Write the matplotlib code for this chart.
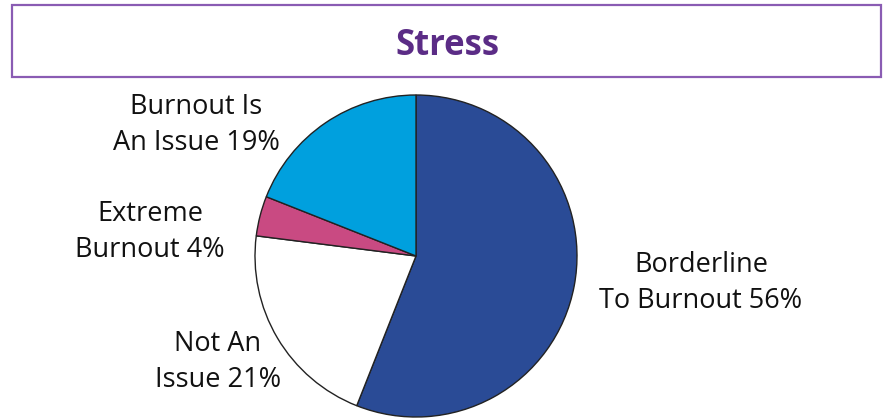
import matplotlib.pyplot as plt
from matplotlib.patches import Rectangle

# data
labels = ['Borderline\nTo Burnout 56%', 'Not An\nIssue 21%', 'Extreme\nBurnout 4%', 'Burnout Is\nAn Issue 19%']
values = [56, 21, 4, 19]
colors = ['#2A4B96', '#FFFFFF', '#C94A82', '#00A0DE']

W, H = 883, 418
fig = plt.figure(figsize=(W / 100, H / 100), dpi=100)

# title box
fig.patches.append(Rectangle((12 / W, 1 - 77 / H), 869 / W, 72 / H, transform=fig.transFigure,
                             facecolor='white', edgecolor='#8A5CB3', linewidth=1.6))
fig.text(448 / W, 1 - 46 / H, 'Stress', ha='center', va='center', fontsize=25,
         fontweight='bold', color='#5B2C86', family='Open Sans')

# pie (center ~ (416, 256) px, radius ~161 px)
cx, cy, r = 416, 256, 161
ax = fig.add_axes([(cx - r) / W, 1 - (cy + r) / H, 2 * r / W, 2 * r / H])
ax.pie(values, colors=colors, startangle=90, counterclock=False,
       wedgeprops=dict(edgecolor='#222222', linewidth=1.0))
ax.set_xlim(-1, 1)
ax.set_ylim(-1, 1)
ax.set_aspect('equal')
ax.axis('off')

# labels
label_pos = [(701, 283), (218, 362), (150, 232), (196, 125)]
for text, (x, y) in zip(labels, label_pos):
    fig.text(x / W, 1 - y / H, text, ha='center', va='center', fontsize=19.5,
             color='#111111', family='Open Sans', linespacing=1.38)

fig.savefig('out.png', dpi=100)
